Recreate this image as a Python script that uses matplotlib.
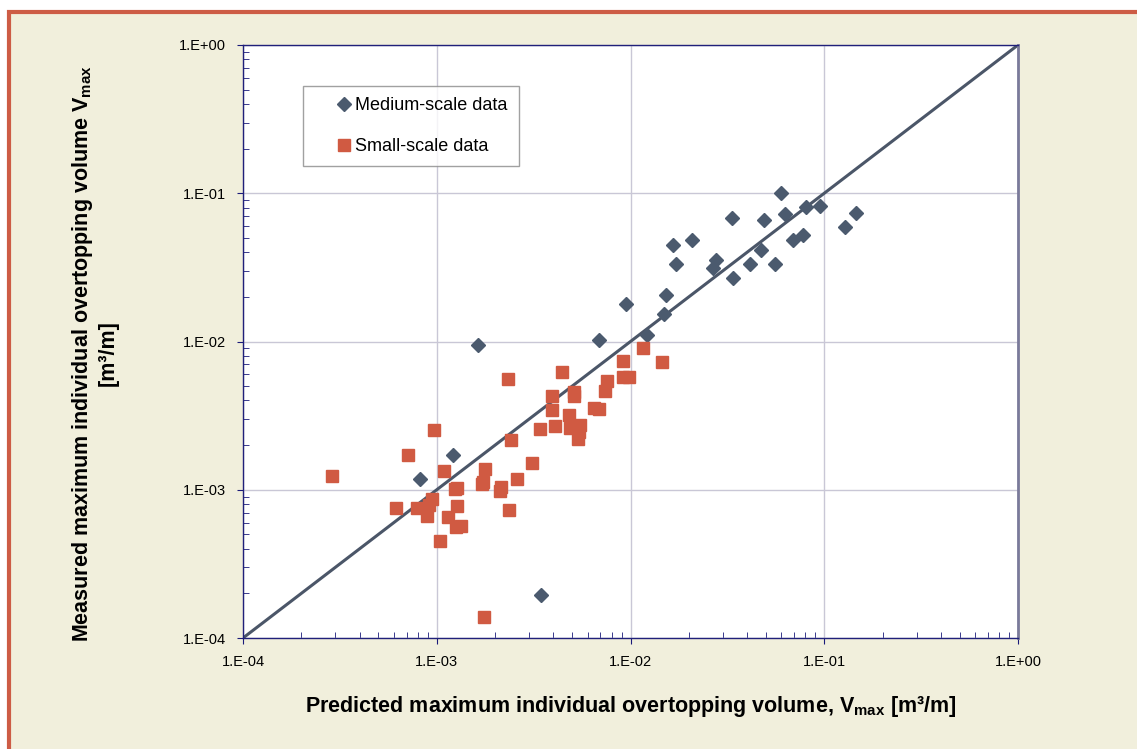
import matplotlib.pyplot as plt
import matplotlib.patches as patches
from matplotlib.ticker import FuncFormatter, LogLocator, NullFormatter
import numpy as np

plt.rcParams['font.family'] = ['Liberation Sans', 'DejaVu Sans']
plt.rcParams['mathtext.fontset'] = 'custom'
plt.rcParams['mathtext.rm'] = 'Liberation Sans'
plt.rcParams['mathtext.bf'] = 'Liberation Sans:bold'

# medium-scale data (predicted, measured) [m3/m]
med_pred = [8.2e-4, 1.21e-3, 1.63e-3, 3.45e-3, 6.87e-3, 9.48e-3, 1.21e-2, 1.49e-2,
            1.52e-2, 1.66e-2, 1.72e-2, 2.08e-2, 2.65e-2, 2.75e-2, 3.34e-2, 3.39e-2,
            4.14e-2, 4.72e-2, 4.86e-2, 5.57e-2, 5.96e-2, 6.29e-2, 6.87e-2, 7.80e-2,
            8.07e-2, 9.5e-2, 1.285e-1, 1.46e-1]
med_meas = [1.18e-3, 1.72e-3, 9.5e-3, 1.96e-4, 1.02e-2, 1.78e-2, 1.11e-2, 1.53e-2,
            2.05e-2, 4.45e-2, 3.32e-2, 4.81e-2, 3.12e-2, 3.55e-2, 6.84e-2, 2.69e-2,
            3.35e-2, 4.12e-2, 6.63e-2, 3.35e-2, 1.004e-1, 7.24e-2, 4.81e-2, 5.25e-2,
            8.07e-2, 8.16e-2, 5.95e-2, 7.39e-2]

# small-scale data (predicted, measured) [m3/m]
small_pred = [2.89e-4, 7.13e-4, 9.68e-4, 6.18e-4, 7.91e-4, 8.93e-4, 9.16e-4, 9.48e-4,
              1.04e-3, 1.09e-3, 1.14e-3, 1.24e-3, 1.27e-3, 1.27e-3, 1.26e-3, 1.34e-3,
              1.71e-3, 1.74e-3, 1.77e-3, 1.76e-3, 2.11e-3, 2.15e-3, 2.32e-3, 2.37e-3,
              2.42e-3, 2.61e-3, 3.11e-3, 3.41e-3, 3.94e-3, 3.94e-3, 4.09e-3, 4.43e-3,
              4.83e-3, 4.87e-3, 5.13e-3, 5.13e-3, 5.48e-3, 5.42e-3, 5.36e-3, 6.50e-3,
              6.88e-3, 7.41e-3, 7.54e-3, 9.12e-3, 9.2e-3, 9.86e-3, 1.16e-2, 1.46e-2]
small_meas = [1.23e-3, 1.72e-3, 2.53e-3, 7.5e-4, 7.5e-4, 6.65e-4, 7.89e-4, 8.66e-4,
              4.49e-4, 1.34e-3, 6.52e-4, 1.01e-3, 1.02e-3, 7.81e-4, 5.58e-4, 5.72e-4,
              1.09e-3, 1.13e-3, 1.39e-3, 1.39e-4, 9.81e-4, 1.04e-3, 5.61e-3, 7.27e-4,
              2.17e-3, 1.19e-3, 1.51e-3, 2.56e-3, 4.27e-3, 3.45e-3, 2.68e-3, 6.23e-3,
              3.18e-3, 2.62e-3, 4.54e-3, 4.31e-3, 2.73e-3, 2.46e-3, 2.19e-3, 3.56e-3,
              3.52e-3, 4.64e-3, 5.42e-3, 7.42e-3, 5.73e-3, 5.73e-3, 9.04e-3, 7.27e-3]

line_x = [1e-4, 1e0]

fig = plt.figure(figsize=(11.37, 7.49), dpi=100)
fig.patch.set_facecolor('white')
fig.patches.append(patches.Rectangle((8.5/1137, -0.02), 1.1, 1 - 11.5/749 + 0.02,
                                     transform=fig.transFigure, facecolor='#f1efdc',
                                     edgecolor='#cd5c45', linewidth=3, zorder=-10))

ax = fig.add_axes([243/1137, 1 - 638/749, 775/1137, 593/749])
ax.set_xscale('log')
ax.set_yscale('log')
ax.set_xlim(1e-4, 1)
ax.set_ylim(1e-4, 1)

ax.plot(line_x, line_x, color='#4b5668', lw=2.2, zorder=2)
ax.plot(med_pred, med_meas, 'D', color='#4b5a6e', ms=7.5, ls='none',
        label='Medium-scale data', zorder=3)
ax.plot(small_pred, small_meas, 's', color='#d05a42', ms=9, ls='none',
        label='Small-scale data', zorder=3)

ax.grid(which='major', color='#c9c7d6', lw=1)
fmt = FuncFormatter(lambda v, p: '1.E%+03d' % int(round(np.log10(v))))
for a in (ax.xaxis, ax.yaxis):
    a.set_major_locator(LogLocator(base=10, numticks=10))
    a.set_minor_locator(LogLocator(base=10, subs=np.arange(2, 10), numticks=10))
    a.set_major_formatter(fmt)
    a.set_minor_formatter(NullFormatter())
ax.tick_params(which='major', direction='out', length=4, color='#1a1a7a',
               labelsize=10.5, pad=8)
ax.tick_params(which='minor', direction='in', length=4, color='#1a1a7a')
for s in ax.spines.values():
    s.set_color('#20207a')
    s.set_linewidth(1)
ax.spines['right'].set_color('#7a7a9a')
ax.spines['right'].set_linewidth(2)

leg = ax.legend(loc='upper left', bbox_to_anchor=(60/775, 1 - 41/593), fontsize=13,
                frameon=True, fancybox=False, borderpad=0.6, labelspacing=1.35,
                handletextpad=-1.0, handlelength=3.3, borderaxespad=0)
leg.get_frame().set_edgecolor('#8a8a8a')
leg.get_frame().set_linewidth(1)

ax.set_xlabel(r'Predicted maximum individual overtopping volume, V$_\mathbf{max}$ [m³/m]',
              fontsize=15.5, fontweight='bold', labelpad=18)
ax.set_ylabel('Measured maximum individual overtopping volume V$_\\mathbf{max}$\n[m³/m]',
              fontsize=15.5, fontweight='bold')
ax.yaxis.set_label_coords(-0.16, 0.48)

fig.savefig('out.png', dpi=100)
